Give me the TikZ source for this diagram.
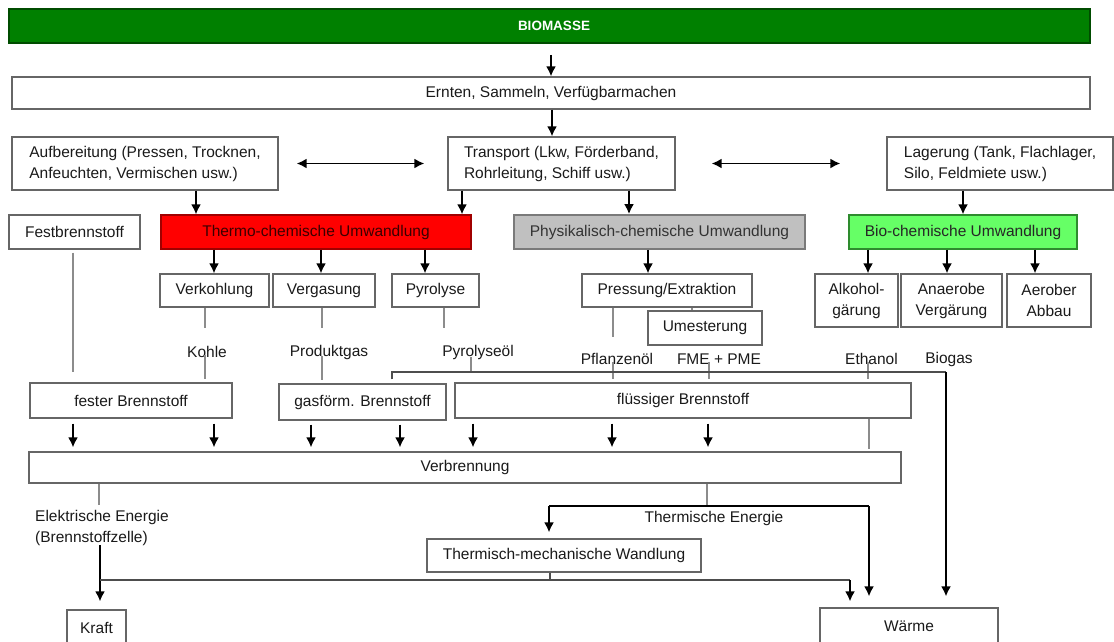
\documentclass[tikz,border=0pt]{standalone}
\usepackage{fontspec}
\setmainfont{Liberation Sans}
\usetikzlibrary{arrows.meta,shadows}
\definecolor{bmgreen}{HTML}{008000}
\definecolor{bmgreenD}{HTML}{004C00}
\definecolor{thermoR}{HTML}{FF0000}
\definecolor{thermoD}{HTML}{A00000}
\definecolor{thermoT}{HTML}{3A0000}
\definecolor{physG}{HTML}{C0C0C0}
\definecolor{physD}{HTML}{7A7A7A}
\definecolor{bioG}{HTML}{66FF66}
\definecolor{bioD}{HTML}{2E8B2E}
\definecolor{boxline}{HTML}{666666}
\definecolor{txt}{HTML}{1A1A1A}
\definecolor{lgray}{HTML}{8C8C8C}
\definecolor{dgray}{HTML}{4D4D4D}
\begin{document}
\begin{tikzpicture}[x=1pt,y=-1pt,
  font=\fontsize{15.5}{21}\selectfont,
  box/.style={draw=boxline, line width=1.2pt, fill=white, inner sep=2pt, align=center, text=txt,
    drop shadow={shadow xshift=1.2pt, shadow yshift=-1.2pt, fill=black!30, opacity=1}},
  arr/.style={draw=black, line width=1.9pt, -{Latex[length=10pt,width=10pt]}},
  dbl/.style={draw=black, line width=1.9pt, {Latex[length=10pt,width=10pt]}-{Latex[length=10pt,width=10pt]}},
  gline/.style={draw=lgray, line width=1.1pt},
  dline/.style={draw=dgray, line width=1.4pt},
  blk/.style={draw=black, line width=1.9pt},
  lbl/.style={inner sep=0pt, text=txt}]
\useasboundingbox (0,0) rectangle (1114,641);
\fill[white] (0,0) rectangle (1114,641);

% ---- top rows
\node[box, fill=bmgreen, draw=bmgreenD, line width=1.5pt, minimum width=1081pt, minimum height=34pt,
  text=white, font=\fontsize{13.5}{16}\selectfont\bfseries] (bio) at (549.5,26) {\hspace*{9pt}BIOMASSE};
\node[box, minimum width=1078pt, minimum height=32pt] (ern) at (551,93) {Ernten, Sammeln, Verfügbarmachen};
\node[box, align=left, minimum width=266pt, minimum height=53pt] (auf) at (145,163.5) {Aufbereitung (Pressen, Trocknen,\\Anfeuchten, Vermischen usw.)};
\node[box, align=left, minimum width=227pt, minimum height=53pt] (trans) at (561.5,163.5) {Transport (Lkw, Förderband,\\Rohrleitung, Schiff usw.)};
\node[box, align=left, minimum width=226pt, minimum height=53pt] (lag) at (1000,163.5) {Lagerung (Tank, Flachlager,\\Silo, Feldmiete usw.)};

% ---- conversion row
\node[box, minimum width=131pt, minimum height=34pt] (fest) at (74.5,232) {Festbrennstoff};
\node[box, fill=thermoR, draw=thermoD, minimum width=310pt, minimum height=34pt, text=thermoT] (thermo) at (316,232) {Thermo-chemische Umwandlung};
\node[box, fill=physG, draw=physD, line width=1.8pt, minimum width=291pt, minimum height=34pt, text=black!80] (phys) at (659.5,232) {Physikalisch-chemische Umwandlung};
\node[box, fill=bioG, draw=bioD, minimum width=228pt, minimum height=34pt, text=black!85] (biochem) at (963,232) {Bio-chemische Umwandlung};

% ---- processes
\node[box, minimum width=109pt, minimum height=33pt] (verk) at (214.5,290.5) {Verkohlung};
\node[box, minimum width=102pt, minimum height=33pt] (verg) at (324,290.5) {Vergasung};
\node[box, minimum width=87pt, minimum height=33pt] (pyro) at (435.5,290.5) {Pyrolyse};
\node[box, minimum width=170pt, minimum height=33pt] (press) at (667,290.5) {Pressung/Extraktion};
\node[box, minimum width=114pt, minimum height=34pt] (umest) at (705,328) {Umesterung};
\node[box, minimum width=83pt, minimum height=53pt] (alk) at (856.5,300.5) {Alkohol-\\gärung};
\node[box, minimum width=101pt, minimum height=53pt] (ana) at (951.5,300.5) {Anaerobe\\Vergärung};
\node[box, minimum width=84pt, minimum height=53pt] (aer) at (1049,300.5) {Aerober\\Abbau};

% ---- product labels
\node[lbl] (kohle) at (207,352) {Kohle};
\node[lbl] (prod) at (329,352) {Produktgas};
\node[lbl] (pyrol) at (478,352) {Pyrolyseöl};
\node[lbl] (pflanz) at (617,359) {Pflanzenöl};
\node[lbl] (fme) at (719,359) {FME + PME};
\node[lbl] (ethanol) at (871.5,359) {Ethanol};
\node[lbl] (biogas) at (949,359) {Biogas};

% ---- fuel boxes
\node[box, minimum width=202pt, minimum height=35pt] (fester) at (131,400.5) {fester Brennstoff};
\node[box, minimum width=167pt, minimum height=36pt] (gasf) at (362.5,402) {gasförm. Brennstoff};
\node[box, minimum width=456pt, minimum height=35pt] (fluss) at (683,400.5) {flüssiger Brennstoff};
\node[box, minimum width=872pt, minimum height=31pt] (verb) at (465,467.5) {Verbrennung};

% ---- bottom
\node[lbl, align=left, anchor=west] (elek) at (35,527.5) {Elektrische Energie\\(Brennstoffzelle)};
\node[lbl] (thel) at (714,518) {Thermische Energie};
\node[box, minimum width=274pt, minimum height=33pt] (thermm) at (564,555.5) {Thermisch-mechanische Wandlung};
\node[box, minimum width=59pt, minimum height=35pt] (kraft) at (96.5,627.5) {Kraft};
\node[box, minimum width=178pt, minimum height=36pt] (waerme) at (909,626) {Wärme};

% ---- free-end coordinates
\coordinate (festend) at (73,372);
\coordinate (verkend) at (205,328);
\coordinate (vergend) at (322,328);
\coordinate (pyroend) at (444,328);
\coordinate (pressend) at (613,337);
\coordinate (hl) at (392,372);
\coordinate (hr) at (946,372);
\coordinate (pyj) at (471,372);
\coordinate (ej) at (99,505);
\coordinate (tj) at (707,506);
\coordinate (tl) at (549,506);
\coordinate (tr) at (869,506);
\coordinate (kl) at (100,580);
\coordinate (kr) at (850,580);
\coordinate (mj) at (550,580);

% ---- top arrows
\draw[arr, shorten <=11pt] (bio.south -| ern.north) -- (ern.north);
\draw[arr] (552,0 |- ern.south) -- (552,0 |- trans.north);
\draw[dbl] ([xshift=18pt]auf.east) -- ([xshift=-23pt]trans.west);
\draw[dbl] ([xshift=36pt]trans.east) -- ([xshift=-46pt]lag.west);
\draw[arr] (196,0 |- auf.south) -- (196,0 |- thermo.north);
\draw[arr] (462,0 |- trans.south) -- (462,0 |- thermo.north);
\draw[arr] (629,0 |- trans.south) -- (629,0 |- phys.north);
\draw[arr] (963,0 |- lag.south) -- (963,0 |- biochem.north);

% ---- conversion arrows
\draw[arr] (214,0 |- thermo.south) -- (214,0 |- verk.north);
\draw[arr] (321,0 |- thermo.south) -- (321,0 |- verg.north);
\draw[arr] (425,0 |- thermo.south) -- (425,0 |- pyro.north);
\draw[arr] (648,0 |- phys.south) -- (648,0 |- press.north);
\draw[arr] (868,0 |- biochem.south) -- (868,0 |- alk.north);
\draw[arr] (947,0 |- biochem.south) -- (947,0 |- ana.north);
\draw[arr] (1035,0 |- biochem.south) -- (1035,0 |- aer.north);

% ---- thin product lines
\draw[gline, shorten <=3pt] (73,0 |- fest.south) -- (festend);
\draw[gline] (205,0 |- verk.south) -- (verkend);
\draw[gline] (322,0 |- verg.south) -- (vergend);
\draw[gline] (444,0 |- pyro.south) -- (pyroend);
\draw[gline] (613,0 |- press.south) -- (pressend);
\draw[gline] (692,0 |- press.south) -- (692,0 |- umest.north);
\draw[gline, shorten <=-3pt, shorten >=3pt] (205,0 |- kohle.south) -- (205,0 |- fester.north);
\draw[gline, shorten <=-3pt, shorten >=3pt] (322,0 |- prod.south) -- (322,0 |- gasf.north);
\draw[gline, shorten <=-2pt] (471,0 |- pyrol.south) -- (pyj);
\draw[gline, shorten <=-3pt, shorten >=3pt] (613,0 |- pflanz.south) -- (613,0 |- fluss.north);
\draw[gline, shorten <=-3pt, shorten >=3pt] (709,0 |- fme.south) -- (709,0 |- fluss.north);
\draw[gline, shorten <=-3pt, shorten >=3pt] (868,0 |- ethanol.south) -- (868,0 |- fluss.north);
\draw[gline, shorten >=2pt] (869,0 |- fluss.south) -- (869,0 |- verb.north);
\draw[dline, shorten <=4pt] (392,0 |- gasf.north) -- (hl) -- (hr);
\draw[arr, shorten >=11pt] (hr) -- (946,0 |- waerme.north);

% ---- into Verbrennung
\foreach \xx in {73,214} \draw[arr, shorten <=5pt, shorten >=4pt] (\xx,0 |- fester.south) -- (\xx,0 |- verb.north);
\foreach \xx in {311,400} \draw[arr, shorten <=4pt, shorten >=4pt] (\xx,0 |- gasf.south) -- (\xx,0 |- verb.north);
\foreach \xx in {473,612,708} \draw[arr, shorten <=5pt, shorten >=4pt] (\xx,0 |- fluss.south) -- (\xx,0 |- verb.north);

% ---- energy
\draw[gline] (99,0 |- verb.south) -- (ej);
\draw[arr, shorten >=8pt] (100,0 |- elek.south) -- (100,0 |- kraft.north);
\draw[gline] (707,0 |- verb.south) -- (tj);
\draw[blk] (tl) -- (tr);
\draw[arr, shorten >=6pt] (tl) -- (549,0 |- thermm.north);
\draw[arr, shorten >=11pt] (tr) -- (869,0 |- waerme.north);
\draw[dline] (550,0 |- thermm.south) -- (mj);
\draw[dline] (kl) -- (kr);
\draw[arr, shorten >=6pt] (kr) -- (850,0 |- waerme.north);
\end{tikzpicture}
\end{document}
